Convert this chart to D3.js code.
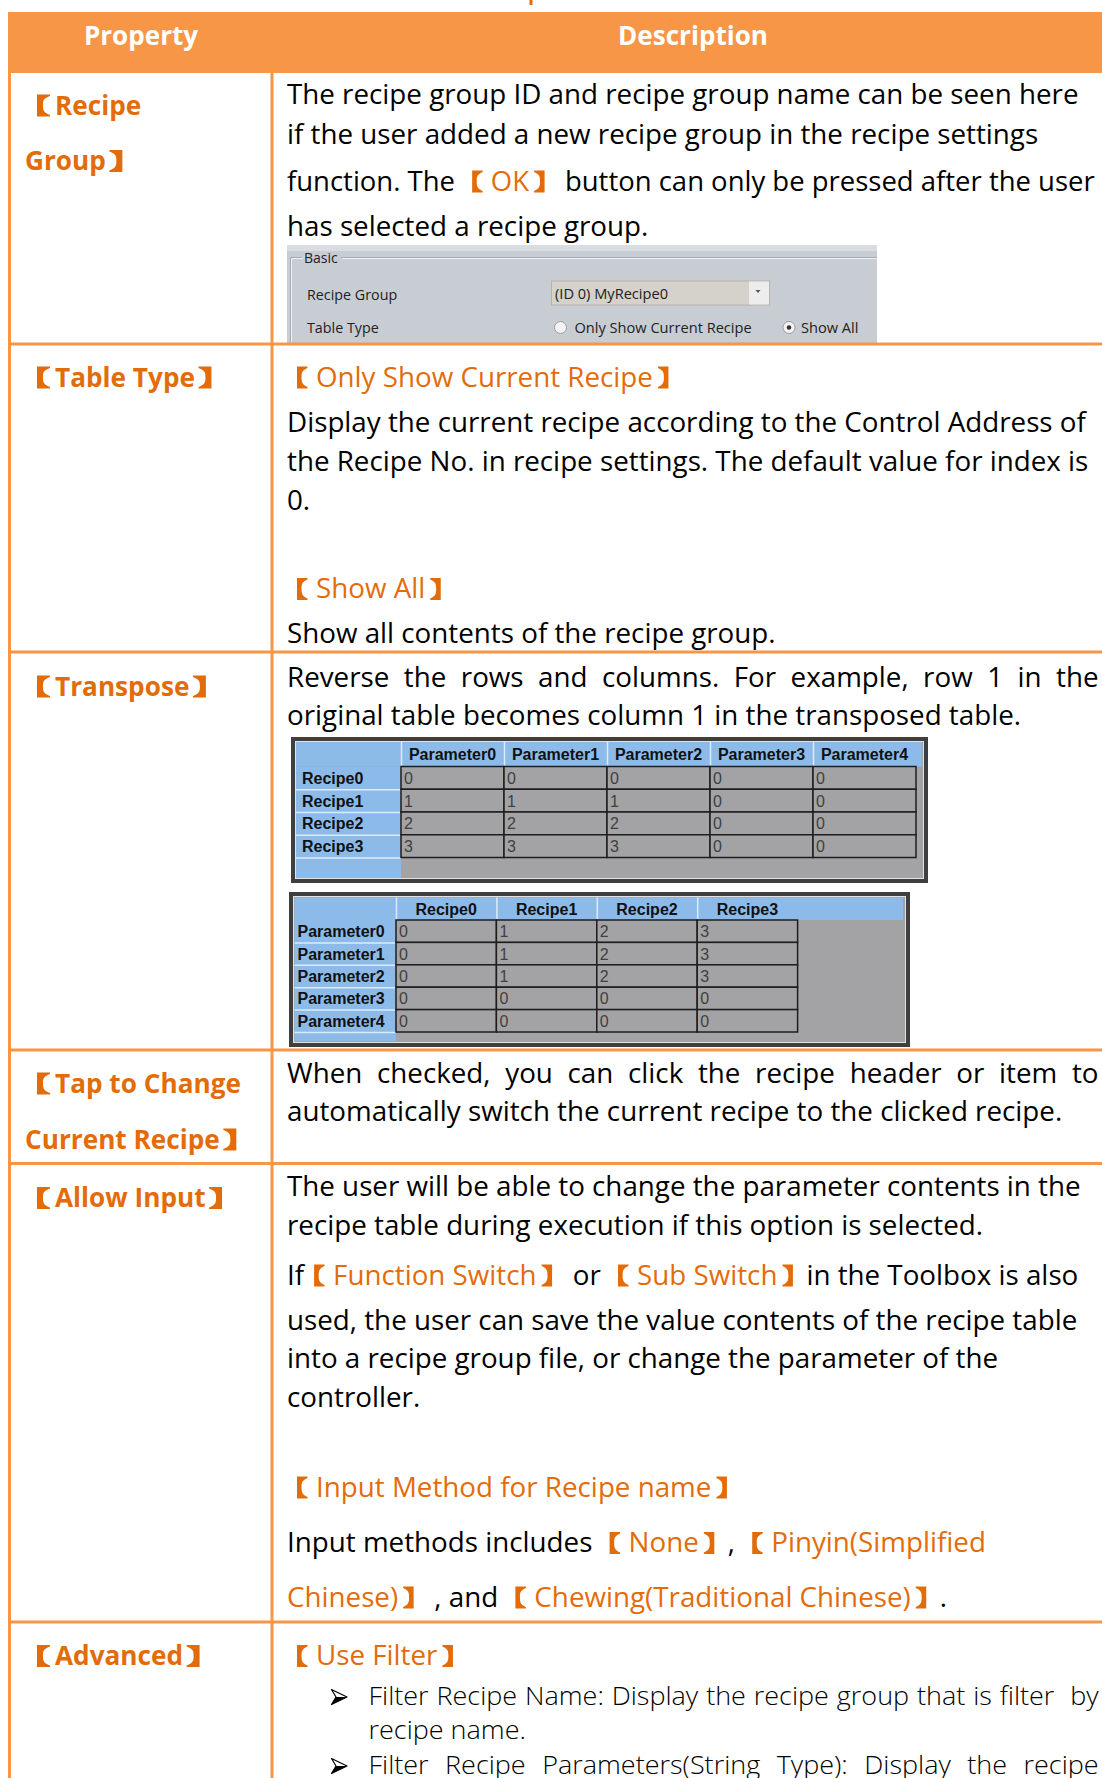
<!DOCTYPE html>
<html><head><meta charset="utf-8">
<script src="https://cdn.jsdelivr.net/npm/d3@7"></script>
<style>
html,body{margin:0;padding:0;background:#fff;}
svg{display:block;}
text{white-space:pre;}
</style></head>
<body><svg id="c" width="1102" height="1778"></svg>
<script>
// ================= DATA =================
const columnHeaders = ["Property", "Description"];
const propertyLabels = [
  ["【Recipe", "Group】"],
  ["【Table Type】"],
  ["【Transpose】"],
  ["【Tap to Change", "Current Recipe】"],
  ["【Allow Input】"],
  ["【Advanced】"]
];
// {...} = highlighted run ; j = justified ; b = bullet ; c = bullet continuation
const descriptionLines = [
  [
    {t: "The recipe group ID and recipe group name can be seen here"},
    {t: "if the user added a new recipe group in the recipe settings"},
    {t: "function. The {【OK】} button can only be pressed after the user"},
    {t: "has selected a recipe group."}
  ],
  [
    {t: "{【Only Show Current Recipe】}"},
    {t: "Display the current recipe according to the Control Address of"},
    {t: "the Recipe No. in recipe settings. The default value for index is"},
    {t: "0."},
    {t: "{【Show All】}"},
    {t: "Show all contents of the recipe group."}
  ],
  [
    {t: "Reverse the rows and columns. For example, row 1 in the", j: 1},
    {t: "original table becomes column 1 in the transposed table."}
  ],
  [
    {t: "When checked, you can click the recipe header or item to", j: 1},
    {t: "automatically switch the current recipe to the clicked recipe."}
  ],
  [
    {t: "The user will be able to change the parameter contents in the"},
    {t: "recipe table during execution if this option is selected."},
    {t: "If{【Function Switch】} or {【Sub Switch】}in the Toolbox is also"},
    {t: "used, the user can save the value contents of the recipe table"},
    {t: "into a recipe group file, or change the parameter of the"},
    {t: "controller."},
    {t: "{【Input Method for Recipe name】}"},
    {t: "Input methods includes {【None】}, {【Pinyin(Simplified}"},
    {t: "{Chinese)】} , and {【Chewing(Traditional Chinese)】}."}
  ],
  [
    {t: "{【Use Filter】}"},
    {t: "Filter Recipe Name: Display the recipe group that is filter  by", b: 1, j: 1},
    {t: "recipe name.", c: 1},
    {t: "Filter Recipe Parameters(String Type): Display the recipe", b: 1, j: 1}
  ]
];

// screenshot 1 : recipe group settings
const panelTitle = "Basic";
const panelFields = ["Recipe Group", "Table Type"];
const recipeGroupValue = "(ID 0) MyRecipe0";
const tableTypeOptions = ["Only Show Current Recipe", "Show All"];
const tableTypeSelected = 1;

// screenshots 2/3 : recipe table and its transpose
const recipeNames = ["Recipe0", "Recipe1", "Recipe2", "Recipe3"];
const parameterNames = ["Parameter0", "Parameter1", "Parameter2", "Parameter3", "Parameter4"];
const recipeValues = [
  [0, 0, 0, 0, 0],
  [1, 1, 1, 0, 0],
  [2, 2, 2, 0, 0],
  [3, 3, 3, 0, 0]
];

// ================= LAYOUT =================
const W = 1102, H = 1778;
const ORANGE = "#E36C0A", BORDER = "#F79646";
const FONT = "'Open Sans','Noto Sans CJK SC',sans-serif";
const CJK = "'Noto Sans CJK SC','Noto Sans CJK JP',sans-serif";
const TFONT = "'Liberation Sans',Arial,sans-serif";
const rowBounds = [73, 344, 652, 1050, 1163.5, 1622, 1790];
const colX = [9.5, 272];
const leftX = 25, rightX = 287, rightEdge = 1099, bulletX = 331, bulletTextX = 368.5;
const propBaselines = [[114.5, 170], [386.5], [695.5], [1092.5, 1148.5], [1207], [1665]];
const descBaselines = [
  [104, 144, 190.5, 235.5],
  [386.5, 432, 471, 510, 598, 643],
  [687, 724.5],
  [1083, 1121],
  [1196, 1234.5, 1284.5, 1330, 1368, 1407, 1496.5, 1552, 1606.5],
  [1665, 1705, 1739, 1774]
];

const svg = d3.select("#c");
svg.append("rect").attr("width", W).attr("height", H).attr("fill", "#fff");
const layer = svg.append("g");

// ---------- text helpers ----------
// adv: bracket advance, iw: ink width, oL/oR: ink offset of 【 / 】 inside advance
const STY = {
  reg:   {size: 27, weight: 400, br: {adv: 29, iw: 10.5, oL: 10, oR: 5, mid: 4.6}},
  bold:  {size: 27, weight: 700, br: {adv: 30, iw: 13, oL: 12, oR: 3.5, mid: 6}},
  light: {size: 26, weight: 300, br: {adv: 29, iw: 10.5, oL: 10, oR: 5, mid: 4.6}}
};
function measure(str, st) {
  const t = layer.append("text").attr("font-family", FONT)
    .attr("font-size", st.size).attr("font-weight", st.weight).text(str);
  const w = t.node().getComputedTextLength();
  t.remove();
  return w;
}
const kReg = 792 / measure("The recipe group ID and recipe group name can be seen here", STY.reg);
const kBold = 186 / measure("Tap to Change", STY.bold);
const kHead = 150 / measure("Description", STY.bold);
const kLight = 157.5 / measure("recipe name.", STY.light);

function parseRuns(s) {
  return s.split(/(\{[^}]*\})/).filter(x => x.length).map(x =>
    x[0] === "{" ? {text: x.slice(1, -1), hl: true} : {text: x, hl: false});
}
function bracketPath(x0, y, b, left) {
  // lenticular bracket ink box [x0, x0+iw], from y-20 to y+2
  const iw = b.iw, yT = y - 20, yB = y + 2, t = 1.6, ym = (yT + yB) / 2;
  const x1 = x0 + iw;
  if (left) {
    return `M${x1},${yT} L${x0},${yT} L${x0},${yB} L${x1},${yB} L${x1},${yB - t} ` +
      `C${x0 + b.mid},${yB - 4} ${x0 + b.mid},${ym + 4} ${x0 + b.mid},${ym} ` +
      `C${x0 + b.mid},${ym - 4} ${x0 + b.mid},${yT + 4} ${x1},${yT + t} Z`;
  }
  return `M${x0},${yT} L${x1},${yT} L${x1},${yB} L${x0},${yB} L${x0},${yB - t} ` +
    `C${x1 - b.mid},${yB - 4} ${x1 - b.mid},${ym + 4} ${x1 - b.mid},${ym} ` +
    `C${x1 - b.mid},${ym - 4} ${x1 - b.mid},${yT + 4} ${x0},${yT + t} Z`;
}
function drawLine(x, y, str, st, k, fill, target, maxW) {
  const t = layer.append("text")
    .attr("font-family", FONT).attr("font-size", st.size)
    .attr("font-weight", st.weight).attr("fill", fill);
  const brs = [];
  let ci = 0;
  parseRuns(str).forEach(r => {
    r.text.split(/([【】])/).filter(p => p.length).forEach(p => {
      const ts = t.append("tspan").text(p);
      const col = r.hl ? ORANGE : fill;
      if (r.hl) ts.attr("fill", ORANGE);
      if (p === "【" || p === "】") {
        ts.attr("font-family", CJK).attr("font-size", st.br.adv / k).attr("fill-opacity", 0);
        brs.push({i: ci, left: p === "【", col});
      }
      ci += p.length;
    });
  });
  const w0 = t.node().getComputedTextLength();
  let kk = k;
  if (target) {
    const n = (str.replace(/[{}]/g, "").match(/ /g) || []).length;
    if (n) t.style("word-spacing", ((target / k - w0) / n) + "px");
  } else if (maxW && w0 * k > maxW) {
    kk = maxW / w0;
  }
  t.attr("transform", `translate(${x},${y}) scale(${kk},1)`);
  brs.forEach(b => {
    const e = t.node().getExtentOfChar(b.i);
    const bx = x + e.x * kk;
    const x0 = bx + (b.left ? st.br.oL : st.br.oR);
    layer.append("path").attr("d", bracketPath(x0, y, st.br, b.left)).attr("fill", b.col);
  });
  return t;
}

// ---------- header ----------
layer.append("rect").attr("x", 8).attr("y", 12).attr("width", W - 8).attr("height", 61).attr("fill", BORDER);
const headCenters = [141, 693];
columnHeaders.forEach((h, i) => {
  layer.append("text").attr("font-family", FONT).attr("font-size", 27).attr("font-weight", 700)
    .attr("fill", "#fff").attr("text-anchor", "middle")
    .attr("transform", `translate(${headCenters[i]},45) scale(${kHead},1)`).text(h);
});
// tiny orange mark above table (cut-off caption)
layer.append("rect").attr("x", 529.5).attr("y", 0).attr("width", 3).attr("height", 5).attr("fill", ORANGE);

// ---------- screenshot: Basic panel ----------
(function () {
  const g = layer.append("g");
  g.append("rect").attr("x", 287).attr("y", 245).attr("width", 590).attr("height", 99).attr("fill", "#c8ccd3");
  g.append("rect").attr("x", 287).attr("y", 245).attr("width", 590).attr("height", 6).attr("fill", "#d9dce1");
  const gb = "M290.5,344 V257.5 H302 M341,257.5 H877";
  g.append("path").attr("d", gb).attr("fill", "none").attr("stroke", "#a6aab2").attr("stroke-width", 1);
  g.append("path").attr("d", gb).attr("transform", "translate(1,1)").attr("fill", "none").attr("stroke", "#eef0f3").attr("stroke-width", 1);
  const f = "'Open Sans','Noto Sans',sans-serif";
  g.append("text").attr("x", 304).attr("y", 263).attr("font-family", f).attr("font-size", 14).attr("fill", "#222").text(panelTitle);
  const fy = [299.5, 333];
  panelFields.forEach((p, i) => g.append("text").attr("x", 307).attr("y", fy[i]).attr("font-family", f)
    .attr("font-size", 14.3).attr("fill", "#222").text(p));
  g.append("rect").attr("x", 551.5).attr("y", 281).attr("width", 218).attr("height", 24)
    .attr("fill", "#d5d1cb").attr("stroke", "#b5b1ab");
  g.append("rect").attr("x", 749).attr("y", 281.5).attr("width", 20).attr("height", 23).attr("fill", "#ededed");
  g.append("path").attr("d", "M755.5,290 h5 l-2.5,3 z").attr("fill", "#555");
  g.append("text").attr("x", 555).attr("y", 299).attr("font-family", f).attr("font-size", 14.6)
    .attr("fill", "#222").text(recipeGroupValue);
  const rx = [560.5, 789], tx = [574.5, 801];
  tableTypeOptions.forEach((o, i) => {
    g.append("circle").attr("cx", rx[i]).attr("cy", 327.5).attr("r", 6).attr("fill", "#f3f3f3").attr("stroke", "#9c9c9c");
    if (i === tableTypeSelected) g.append("circle").attr("cx", rx[i]).attr("cy", 327.5).attr("r", 2.3).attr("fill", "#333");
    g.append("text").attr("x", tx[i]).attr("y", 333).attr("font-family", f).attr("font-size", 14.6)
      .attr("fill", "#222").text(o);
  });
})();

// ---------- screenshots: recipe tables ----------
function drawRecipeTable(cfg) {
  const g = layer.append("g");
  const [x0, y0, x1, y1] = cfg.frame;
  g.append("rect").attr("x", x0).attr("y", y0).attr("width", x1 - x0).attr("height", y1 - y0).attr("fill", "#3f3f3f");
  g.append("rect").attr("x", x0 + 4).attr("y", y0 + 4).attr("width", x1 - x0 - 8).attr("height", y1 - y0 - 8).attr("fill", "#e2e2e2");
  g.append("rect").attr("x", x0 + 5).attr("y", y0 + 5).attr("width", x1 - x0 - 10).attr("height", y1 - y0 - 10).attr("fill", "#a3a3a5");
  const BLUE = "#8cbbea";
  const xs = d3.scaleBand().domain(cfg.cols).range([cfg.rh, cfg.colsEnd]);
  const ys = d3.scaleBand().domain(cfg.rows).range([cfg.hb, cfg.rowsEnd]);
  g.append("rect").attr("x", cfg.left).attr("y", cfg.top).attr("width", cfg.headRight - cfg.left)
    .attr("height", cfg.hb - cfg.top).attr("fill", BLUE);
  g.append("rect").attr("x", cfg.left).attr("y", cfg.hb).attr("width", cfg.rh - cfg.left)
    .attr("height", cfg.bottom - cfg.hb).attr("fill", BLUE);
  g.selectAll(".hc").data(cfg.cols).join("line")
    .attr("x1", d => xs(d) + 0.5).attr("x2", d => xs(d) + 0.5).attr("y1", cfg.top).attr("y2", cfg.hb)
    .attr("stroke", "#dcebfa").attr("stroke-width", 1.5);
  g.selectAll(".ht").data(cfg.cols).join("text")
    .attr("x", d => xs(d) + xs.bandwidth() / 2).attr("y", (cfg.top + cfg.hb) / 2 + 6)
    .attr("text-anchor", "middle").attr("font-family", TFONT).attr("font-weight", 700)
    .attr("font-size", 16).attr("fill", "#111").text(d => d);
  g.selectAll(".rl").data(cfg.rows).join("line")
    .attr("x1", cfg.left).attr("x2", cfg.rh).attr("y1", d => ys(d) + ys.bandwidth() + 0.5)
    .attr("y2", d => ys(d) + ys.bandwidth() + 0.5).attr("stroke", "#dcebfa").attr("stroke-width", 1.5);
  g.selectAll(".rt").data(cfg.rows).join("text")
    .attr("x", cfg.left + cfg.pad).attr("y", d => ys(d) + ys.bandwidth() / 2 + 6)
    .attr("font-family", TFONT).attr("font-weight", 700).attr("font-size", 16).attr("fill", "#111").text(d => d);
  const cells = [];
  cfg.rows.forEach((r, i) => cfg.cols.forEach((c, j) => cells.push({r, c, v: cfg.value(i, j)})));
  g.selectAll(".dc").data(cells).join("rect")
    .attr("x", d => xs(d.c)).attr("y", d => ys(d.r)).attr("width", xs.bandwidth()).attr("height", ys.bandwidth())
    .attr("fill", "#a3a3a5").attr("stroke", "#1e1e1e").attr("stroke-width", 1.5);
  g.selectAll(".dt").data(cells).join("text")
    .attr("x", d => xs(d.c) + 3).attr("y", d => ys(d.r) + ys.bandwidth() / 2 + 6)
    .attr("font-family", TFONT).attr("font-size", 16).attr("fill", "#404040").text(d => d.v);
}
drawRecipeTable({
  frame: [291, 737, 928, 883], left: 296, top: 742, hb: 766.5, rh: 401, colsEnd: 916,
  rowsEnd: 857.5, headRight: 922, bottom: 878, pad: 6,
  cols: parameterNames, rows: recipeNames, value: (i, j) => recipeValues[i][j]
});
drawRecipeTable({
  frame: [289, 892, 910, 1047], left: 294.5, top: 897.5, hb: 920, rh: 396, colsEnd: 797.6,
  rowsEnd: 1032, headRight: 903, bottom: 1041, pad: 3,
  cols: recipeNames, rows: parameterNames, value: (i, j) => recipeValues[j][i]
});

// ---------- property column ----------
propertyLabels.forEach((lines, r) => {
  lines.forEach((s, i) => {
    drawLine(leftX, propBaselines[r][i], "{" + s + "}", STY.bold, kBold, ORANGE);
  });
});

// ---------- description column ----------
function bullet(x, y) {
  const g = layer.append("g").attr("transform", `translate(${x},${y - 8})`);
  g.append("path").attr("d", "M0.5,-7.5 L16,0 L0.5,7.5 L5,0 Z").attr("fill", "#fff")
    .attr("stroke", "#000").attr("stroke-width", 1.2).attr("stroke-linejoin", "round");
  g.append("path").attr("d", "M5,0 L16,0 L0.5,7.5 Z").attr("fill", "#000");
}
descriptionLines.forEach((lines, r) => {
  lines.forEach((ln, i) => {
    const y = descBaselines[r][i];
    if (ln.b || ln.c) {
      if (ln.b) bullet(bulletX, y);
      drawLine(bulletTextX, y, ln.t, STY.light, kLight, "#000", ln.j ? rightEdge - bulletTextX : null, rightEdge - bulletTextX);
    } else {
      drawLine(rightX, y, ln.t, STY.reg, kReg, "#000", ln.j ? rightEdge - rightX : null, 1095 - rightX);
    }
  });
});

// ---------- table borders ----------
colX.forEach(x => layer.append("line").attr("x1", x).attr("x2", x).attr("y1", 12).attr("y2", H)
  .attr("stroke", BORDER).attr("stroke-width", 3));
rowBounds.slice(1, -1).forEach(y => layer.append("line").attr("x1", 8).attr("x2", W).attr("y1", y).attr("y2", y)
  .attr("stroke", BORDER).attr("stroke-width", 3));
</script></body></html>
